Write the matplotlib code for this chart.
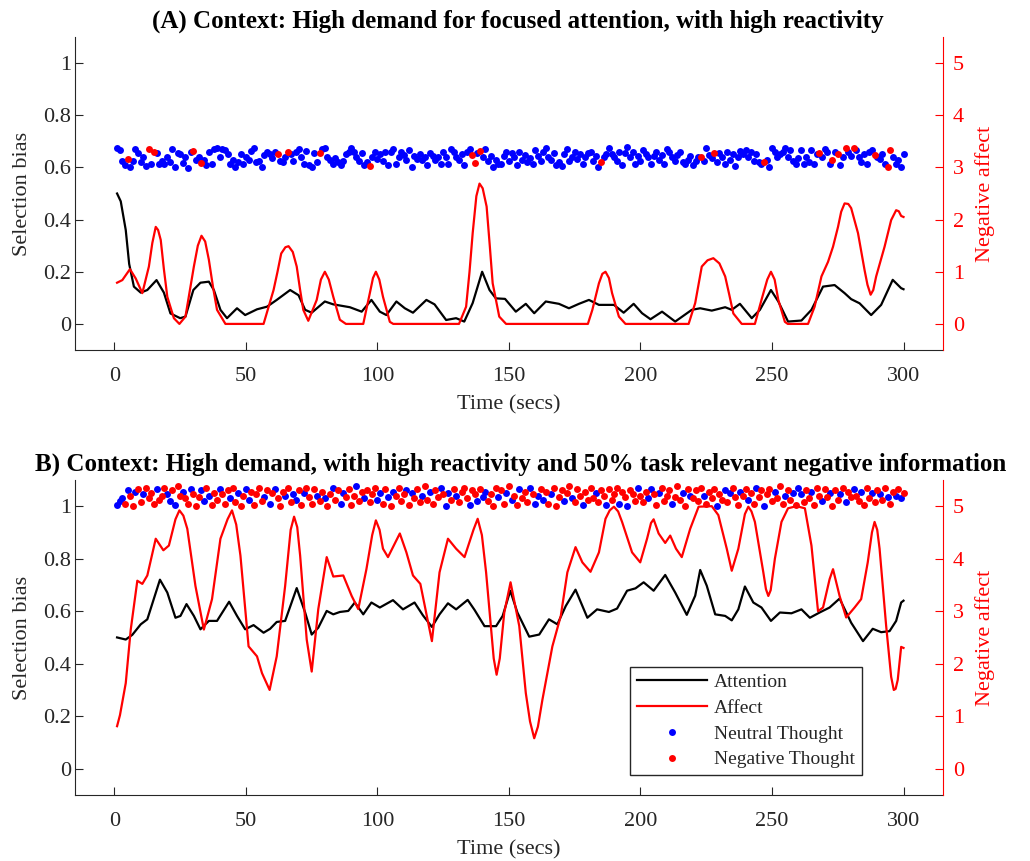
"""Attention / affect simulation traces for two contexts (A: focused, B: 50% negative)."""

import numpy as np
import matplotlib
matplotlib.use("Agg")
import matplotlib.pyplot as plt
from matplotlib.lines import Line2D

plt.rcParams["font.family"] = ["Liberation Serif", "DejaVu Serif"]

# ---------------- panel A ----------------
att_a_t = [1, 2.4, 4.3, 5.6, 7.4, 10, 12.5, 16, 18.8, 21.3, 25, 27, 30, 32.7, 35.9, 37.8,
           40.3, 42.8, 46.6, 49.7, 54.2, 58, 61.7, 66.8, 70, 72.5, 75, 80, 83.2, 89.5, 94,
           97.7, 100.9, 103.4, 107.2, 110.4, 113.5, 118.6, 121.7, 126.1, 129.9, 133, 136.2,
           139.8, 142.6, 145, 148.5, 152.6, 156.4, 159.6, 164, 169, 172.8, 176.6, 180.4,
           184.2, 189.9, 193.6, 197.4, 200.6, 203.8, 208.2, 213.2, 219.5, 222.7, 227.1,
           232.2, 234.7, 237.8, 242.3, 245.4, 249.6, 252.4, 256.1, 261.2, 265, 269.4,
           273.8, 277.6, 280.1, 283.3, 287.7, 291.5, 295.9, 299.1, 300]
att_a = [0.50, 0.47, 0.36, 0.23, 0.143, 0.12, 0.13, 0.168, 0.12, 0.04, 0.022, 0.028, 0.13,
         0.158, 0.162, 0.13, 0.054, 0.022, 0.06, 0.034, 0.056, 0.066, 0.092, 0.13, 0.11,
         0.054, 0.043, 0.086, 0.075, 0.064, 0.047, 0.092, 0.047, 0.034, 0.086, 0.06, 0.043,
         0.092, 0.075, 0.015, 0.022, 0.009, 0.08, 0.20, 0.13, 0.098, 0.096, 0.047, 0.077,
         0.041, 0.086, 0.077, 0.06, 0.077, 0.092, 0.073, 0.073, 0.043, 0.077, 0.041, 0.018,
         0.047, 0.009, 0.054, 0.06, 0.051, 0.064, 0.054, 0.077, 0.022, 0.054, 0.13, 0.086,
         0.009, 0.013, 0.054, 0.143, 0.149, 0.118, 0.095, 0.079, 0.034, 0.073, 0.169, 0.137,
         0.133]

aff_a_t = [1, 3, 5.9, 8.1, 10.6, 13.1, 14.4, 15.7, 16.6, 17.6, 18.8, 20.1, 22.6, 24.7, 27,
           30.2, 31.7, 33.1, 34.5, 35.9, 37.5, 39, 42.2, 56.7, 60.5, 62, 63.4, 65, 66.2,
           67.8, 69.3, 70.6, 71.8, 73.7, 76.9, 78.5, 80, 81.5, 83.2, 85.7, 88, 94.6, 97.1,
           98.3, 99.4, 100.7, 102.1, 104.7, 106, 131, 133.7, 135, 136.2, 137.6, 138.8, 140,
           141.5, 142.7, 143.8, 146.3, 148.9, 180, 181.7, 184.2, 185.5, 186.7, 188, 189.2,
           191.8, 194.3, 218.3, 220.8, 223.3, 225.5, 227.7, 230, 232.2, 233.8, 235.3, 238.5,
           243.5, 246, 248.2, 249.6, 251, 252.4, 254.9, 256, 263.7, 266.2, 268.8, 271.3,
           273.2, 275.1, 276.3, 277.6, 279, 280.1, 282.7, 285.2, 286.3, 287.5, 288.5, 289.6,
           292.8, 295.3, 297.2, 298.2, 299.1, 300]
aff_a = [0.79, 0.84, 1.05, 0.87, 0.59, 1.10, 1.55, 1.86, 1.80, 1.61, 1.05, 0.52, 0.11, 0.0,
         0.14, 1.10, 1.50, 1.69, 1.58, 1.23, 0.70, 0.27, 0.0, 0.0, 0.65, 1.0, 1.35, 1.47,
         1.49, 1.38, 1.10, 0.65, 0.27, 0.06, 0.46, 0.85, 1.0, 0.85, 0.52, 0.08, 0.0, 0.0,
         0.59, 0.88, 1.0, 0.85, 0.52, 0.04, 0.0, 0.0, 0.33, 1.0, 1.74, 2.45, 2.69, 2.60,
         2.25, 1.50, 0.78, 0.14, 0.0, 0.0, 0.27, 0.78, 0.96, 1.0, 0.88, 0.59, 0.14, 0.0,
         0.0, 0.40, 1.10, 1.22, 1.26, 1.16, 0.91, 0.55, 0.20, 0.0, 0.0, 0.46, 0.85, 1.0,
         0.85, 0.46, 0.04, 0.0, 0.0, 0.33, 0.91, 1.19, 1.48, 1.86, 2.15, 2.31, 2.30, 2.22,
         1.74, 1.03, 0.75, 0.56, 0.65, 0.91, 1.48, 1.99, 2.18, 2.16, 2.07, 2.05]

thought_a = [
    0.675, 0.665, 0.625, 0.610, 0.631, 0.600, 0.625, 0.670, 0.655, 0.620, 0.640, 0.605, 0.670, 0.615, 0.660, 0.655, 0.612, 0.625, 0.612, 0.640,
    0.620, 0.670, 0.600, 0.655, 0.650, 0.618, 0.640, 0.598, 0.660, 0.664, 0.630, 0.640, 0.617, 0.630, 0.608, 0.660, 0.612, 0.672, 0.675, 0.640,
    0.670, 0.665, 0.650, 0.612, 0.630, 0.600, 0.620, 0.650, 0.615, 0.640, 0.630, 0.662, 0.675, 0.620, 0.625, 0.600, 0.648, 0.660, 0.650, 0.635,
    0.660, 0.651, 0.625, 0.622, 0.640, 0.660, 0.650, 0.625, 0.660, 0.672, 0.640, 0.612, 0.662, 0.610, 0.600, 0.655, 0.620, 0.654, 0.672, 0.676,
    0.640, 0.628, 0.615, 0.635, 0.620, 0.610, 0.625, 0.650, 0.660, 0.675, 0.660, 0.640, 0.625, 0.655, 0.610, 0.620, 0.607, 0.640, 0.660, 0.632,
    0.650, 0.625, 0.660, 0.610, 0.660, 0.672, 0.612, 0.640, 0.660, 0.648, 0.628, 0.668, 0.602, 0.645, 0.632, 0.650, 0.628, 0.640, 0.610, 0.655,
    0.645, 0.628, 0.640, 0.612, 0.660, 0.640, 0.615, 0.672, 0.660, 0.640, 0.630, 0.650, 0.610, 0.660, 0.670, 0.648, 0.617, 0.655, 0.664, 0.640,
    0.670, 0.625, 0.645, 0.600, 0.630, 0.615, 0.612, 0.645, 0.660, 0.625, 0.655, 0.640, 0.610, 0.660, 0.630, 0.648, 0.620, 0.635, 0.612, 0.665,
    0.645, 0.625, 0.660, 0.675, 0.640, 0.630, 0.655, 0.610, 0.622, 0.605, 0.650, 0.672, 0.625, 0.640, 0.660, 0.632, 0.650, 0.612, 0.640, 0.655,
    0.660, 0.625, 0.645, 0.600, 0.620, 0.640, 0.650, 0.675, 0.650, 0.640, 0.625, 0.660, 0.610, 0.655, 0.678, 0.640, 0.660, 0.612, 0.645, 0.625,
    0.668, 0.650, 0.640, 0.612, 0.645, 0.660, 0.628, 0.648, 0.615, 0.672, 0.660, 0.640, 0.625, 0.648, 0.660, 0.620, 0.612, 0.630, 0.645, 0.610,
    0.625, 0.640, 0.639, 0.625, 0.675, 0.648, 0.635, 0.656, 0.620, 0.655, 0.640, 0.612, 0.660, 0.628, 0.650, 0.605, 0.640, 0.662, 0.650, 0.665,
    0.640, 0.660, 0.625, 0.652, 0.620, 0.612, 0.620, 0.630, 0.600, 0.675, 0.660, 0.640, 0.650, 0.660, 0.675, 0.640, 0.665, 0.625, 0.612, 0.638,
    0.665, 0.615, 0.640, 0.620, 0.668, 0.612, 0.650, 0.656, 0.640, 0.672, 0.660, 0.612, 0.628, 0.660, 0.653, 0.610, 0.640, 0.675, 0.660, 0.645,
    0.675, 0.665, 0.640, 0.620, 0.650, 0.612, 0.660, 0.665, 0.647, 0.640, 0.632, 0.650, 0.615, 0.603, 0.667, 0.640, 0.612, 0.628, 0.600, 0.650,
]
neg_times_a = [5, 13, 15, 30, 33, 62, 66, 78, 97, 136, 137, 139, 185, 223, 228, 247, 268,
               273, 275, 278, 281, 289, 294, 295]

# ---------------- panel B ----------------
att_b_t = [1, 4.3, 6.8, 10, 12.5, 17.3, 20.1, 23.2, 25.1, 27.4, 30.2, 32.7, 35.9, 39, 43.6,
           46.6, 49.7, 52.9, 56.7, 59.2, 61.7, 64.9, 69.3, 72.5, 75, 77.5, 80.7, 83.2, 85.7,
           88.9, 91.4, 94.6, 97.7, 100.9, 105.9, 109.7, 114.1, 117.3, 120.7, 123.6, 126.8,
           129.9, 134.3, 136.9, 140.7, 145.1, 147.6, 150.5, 153.2, 157.7, 161.5, 165.2,
           168.4, 171.6, 175.3, 179.8, 183.5, 188, 191.1, 194.9, 198.1, 201.2, 205, 209.4,
           213.2, 217.6, 220.8, 222.7, 225.2, 228.4, 232.2, 234.7, 237.2, 239.7, 242.9, 246,
           249.6, 253, 257.4, 261.2, 264.4, 268.1, 271.9, 275.7, 280.1, 284.6, 288.3, 291.5,
           294.7, 297.2, 299.1, 300]
att_b = [0.50, 0.492, 0.51, 0.55, 0.569, 0.72, 0.671, 0.575, 0.582, 0.627, 0.582, 0.531,
         0.563, 0.563, 0.636, 0.582, 0.531, 0.547, 0.518, 0.533, 0.559, 0.563, 0.688, 0.595,
         0.511, 0.537, 0.601, 0.588, 0.597, 0.601, 0.633, 0.588, 0.633, 0.614, 0.642, 0.607,
         0.633, 0.584, 0.54, 0.588, 0.63, 0.607, 0.643, 0.605, 0.543, 0.543, 0.582, 0.678,
         0.595, 0.503, 0.511, 0.569, 0.55, 0.62, 0.682, 0.575, 0.607, 0.597, 0.61, 0.678,
         0.687, 0.71, 0.678, 0.738, 0.671, 0.586, 0.659, 0.757, 0.697, 0.588, 0.582, 0.565,
         0.607, 0.694, 0.633, 0.614, 0.563, 0.595, 0.592, 0.607, 0.575, 0.595, 0.614, 0.648,
         0.556, 0.486, 0.533, 0.52, 0.524, 0.563, 0.633, 0.64]

aff_b_t = [1, 2.1, 4.3, 6.2, 8.7, 10.6, 12.5, 15.7, 18.6, 20.7, 23.2, 24.7, 26.2, 27.7, 30.8,
           34, 37.1, 40.3, 43, 44.7, 46.3, 47.9, 51, 54.2, 56.1, 59, 61.7, 64.9, 67, 68.3,
           69.5, 70.6, 73.1, 75, 77.5, 80.7, 83.2, 87, 90.2, 92.7, 95.8, 98, 99.4, 100.8,
           102.1, 104, 108.5, 111, 113.5, 116.3, 120.7, 123.6, 126.8, 129.9, 133.1, 136.5,
           138.1, 139.7, 141.3, 144.2, 145.3, 146.5, 148.2, 150.6, 153.9, 156.4, 158, 159.6,
           161, 162.7, 166.5, 169.7, 172.2, 175.3, 177.9, 181, 184.2, 186.7, 188.3, 189.9,
           191.5, 193, 196.8, 199.9, 202.5, 204, 205, 206.9, 209.4, 211.3, 213.5, 215.7,
           218.9, 222.1, 227.1, 229.6, 232.8, 234.7, 237.2, 239.7, 241, 242.2, 243.5, 246.7,
           247.7, 248.6, 249.5, 251.1, 253.6, 256.1, 259.3, 262.5, 265, 267.5, 269.4, 271.9,
           273.2, 275.7, 278.2, 281.4, 283.9, 286.4, 288, 289, 290, 290.9, 293.4, 295.3,
           296.3, 297, 297.8, 299.1, 300]
aff_b = [0.81, 1.02, 1.63, 2.65, 3.58, 3.52, 3.68, 4.38, 4.16, 4.25, 4.75, 4.92, 4.82, 4.57,
         3.48, 2.65, 3.23, 4.38, 4.75, 4.92, 4.65, 4.06, 2.33, 2.14, 1.82, 1.50, 2.14, 3.48,
         4.55, 4.80, 4.60, 4.06, 2.46, 1.85, 3.04, 4.03, 3.66, 3.68, 3.29, 3.04, 3.80, 4.45,
         4.73, 4.55, 4.19, 4.03, 4.48, 4.12, 3.68, 3.52, 2.43, 3.74, 4.38, 4.19, 4.03, 4.55,
         4.76, 4.45, 3.74, 2.10, 1.79, 2.10, 2.97, 3.55, 2.72, 1.44, 0.90, 0.58, 0.80, 1.31,
         2.33, 2.91, 3.74, 4.22, 3.93, 3.75, 4.12, 4.76, 4.92, 4.99, 4.90, 4.70, 4.12, 3.93,
         4.38, 4.68, 4.75, 4.48, 4.30, 4.44, 4.19, 4.03, 4.57, 4.99, 5.0, 4.83, 4.19, 3.77,
         4.19, 4.85, 4.99, 4.90, 4.70, 3.74, 3.42, 3.29, 3.40, 4.0, 4.70, 4.96, 5.0, 4.96,
         4.25, 3.0, 3.07, 3.61, 3.80, 3.29, 2.88, 3.07, 3.23, 3.93, 4.50, 4.70, 4.55, 4.19,
         2.72, 1.75, 1.50, 1.52, 1.69, 2.32, 2.30]

thought_b = [
    1.005, 1.020, 1.030, 1.010, 1.060, 1.040, 1.000, 1.055, 1.065, 1.015, 1.045, 1.070, 1.030, 1.050, 1.010, 1.065, 1.025, 1.040, 1.070, 1.045,
    1.020, 1.060, 1.005, 1.075, 1.040, 1.055, 1.030, 1.010, 1.065, 1.045, 1.000, 1.035, 1.060, 1.020, 1.070, 1.040, 1.005, 1.050, 1.025, 1.065,
    1.045, 1.010, 1.060, 1.030, 1.070, 1.015, 1.050, 1.000, 1.040, 1.065, 1.025, 1.055, 1.005, 1.045, 1.070, 1.020, 1.035, 1.060, 1.010, 1.050,
    1.065, 1.030, 1.000, 1.055, 1.040, 1.070, 1.015, 1.045, 1.025, 1.060, 1.005, 1.050, 1.070, 1.035, 1.010, 1.065, 1.040, 1.020, 1.055, 1.030,
    1.000, 1.045, 1.070, 1.025, 1.060, 1.010, 1.050, 1.035, 1.065, 1.005, 1.040, 1.075, 1.020, 1.055, 1.030, 1.060, 1.015, 1.045, 1.070, 1.025,
    1.050, 1.010, 1.065, 1.035, 1.000, 1.055, 1.040, 1.070, 1.020, 1.045, 1.060, 1.005, 1.050, 1.030, 1.065, 1.015, 1.040, 1.075, 1.025, 1.055,
    1.010, 1.060, 1.035, 1.070, 1.045, 1.000, 1.050, 1.025, 1.065, 1.040, 1.015, 1.055, 1.070, 1.030, 1.005, 1.060, 1.045, 1.020, 1.065, 1.035,
    1.055, 1.020, 1.045, 1.000, 1.070, 1.035, 1.060, 1.010, 1.050, 1.075, 1.025, 1.040, 1.005, 1.065, 1.030, 1.055, 1.015, 1.070, 1.045, 1.010,
    1.040, 1.065, 1.025, 1.055, 1.010, 1.045, 1.070, 1.000, 1.035, 1.060, 1.020, 1.050, 1.075, 1.030, 1.015, 1.065, 1.040, 1.005, 1.055, 1.025,
    1.070, 1.030, 1.050, 1.015, 1.060, 1.040, 1.005, 1.065, 1.025, 1.045, 1.070, 1.010, 1.055, 1.035, 1.000, 1.060, 1.045, 1.020, 1.070, 1.040,
    1.015, 1.055, 1.030, 1.065, 1.045, 1.005, 1.050, 1.070, 1.020, 1.040, 1.060, 1.010, 1.035, 1.075, 1.025, 1.050, 1.000, 1.065, 1.040, 1.030,
    1.060, 1.020, 1.070, 1.040, 1.010, 1.055, 1.030, 1.065, 1.000, 1.045, 1.025, 1.060, 1.015, 1.050, 1.070, 1.035, 1.005, 1.055, 1.040, 1.065,
    1.025, 1.050, 1.010, 1.070, 1.035, 1.060, 1.000, 1.045, 1.065, 1.020, 1.055, 1.030, 1.075, 1.010, 1.040, 1.060, 1.025, 1.050, 1.005, 1.070,
    1.045, 1.015, 1.060, 1.030, 1.055, 1.005, 1.070, 1.040, 1.020, 1.065, 1.035, 1.050, 1.000, 1.060, 1.025, 1.045, 1.070, 1.015, 1.055, 1.035,
    1.065, 1.040, 1.020, 1.055, 1.005, 1.070, 1.030, 1.050, 1.015, 1.060, 1.045, 1.025, 1.070, 1.035, 1.010, 1.055, 1.040, 1.065, 1.030, 1.050,
]
# 1 = negative thought, 0 = neutral thought (one per second)
kind_b = ("000101101101111011100101101101"
          "110010111011101101100111110101"
          "011101100110111101101101100111"
          "101101111001101011110101110110"
          "111010011011110110100111101101"
          "011011101001011011110110111011"
          "110111011110110111011100110111"
          "101110110111101111011010111011"
          "011011011101110110100111011101"
          "101110101101101110110110110101")

BLUE = "#0000ff"
RED = "#ff0000"
GREY = "#262626"


def style(ax, ax2):
    ax.set_xlim(-15, 315)
    ax.set_ylim(-0.1, 1.1)
    ax2.set_ylim(-0.5, 5.5)
    ax.set_xticks(range(0, 301, 50))
    ax.set_yticks([0, 0.2, 0.4, 0.6, 0.8, 1])
    ax.set_yticklabels(["0", "0.2", "0.4", "0.6", "0.8", "1"])
    ax2.set_yticks(range(0, 6))
    for a in (ax, ax2):
        a.spines["top"].set_visible(False)
    ax.spines["left"].set_color(GREY)
    ax.spines["bottom"].set_color(GREY)
    ax.spines["right"].set_visible(False)
    ax2.spines["left"].set_visible(False)
    ax2.spines["bottom"].set_visible(False)
    ax2.spines["right"].set_color(RED)
    ax.tick_params(axis="x", direction="in", length=6, colors=GREY, labelsize=16, pad=12)
    ax.tick_params(axis="y", direction="in", length=6, colors=GREY, labelsize=16, pad=3)
    ax2.tick_params(axis="y", direction="in", length=6, colors=RED, labelsize=16, pad=7)
    ax.set_xlabel("Time (secs)", fontsize=16, labelpad=7, color=GREY)
    ax.set_ylabel("Selection bias", fontsize=16, labelpad=8, color=GREY)
    ax2.set_ylabel("Negative affect", fontsize=16, labelpad=8, color=RED)


fig = plt.figure(figsize=(10.3, 8.61), dpi=100)
ax_a = fig.add_axes([0.0728, 0.5935, 0.8427, 0.3635])
ax_b = fig.add_axes([0.0728, 0.0767, 0.8427, 0.3659])

secs = np.arange(1, len(thought_a) + 1)

# (A)
ta = np.array(thought_a)
neg_a = np.isin(secs, neg_times_a)
ax_a.plot(secs[~neg_a], ta[~neg_a], "o", color=BLUE, ms=5, mew=0)
ax_a.plot(secs[neg_a], ta[neg_a], "o", color=RED, ms=5, mew=0)
ax_a.plot(att_a_t, att_a, color="black", lw=1.6)
ax_a2 = ax_a.twinx()
ax_a2.plot(aff_a_t, aff_a, color=RED, lw=1.6)
style(ax_a, ax_a2)

# (B)
tb = np.array(thought_b)
neg_b = np.array([c == "1" for c in kind_b])
ax_b.plot(secs[~neg_b], tb[~neg_b], "o", color=BLUE, ms=5, mew=0)
ax_b.plot(secs[neg_b], tb[neg_b], "o", color=RED, ms=5, mew=0)
ax_b.plot(att_b_t, att_b, color="black", lw=1.6)
ax_b2 = ax_b.twinx()
ax_b2.plot(aff_b_t, aff_b, color=RED, lw=1.6)
style(ax_b, ax_b2)

handles = [Line2D([], [], color="black", lw=1.6),
           Line2D([], [], color=RED, lw=1.6),
           Line2D([], [], color=BLUE, marker="o", ls="none", ms=5, mew=0),
           Line2D([], [], color=RED, marker="o", ls="none", ms=5, mew=0)]
leg = ax_b2.legend(handles, ["Attention", "Affect", "Neutral Thought", "Negative Thought"],
                   loc="lower left", bbox_to_anchor=(0.640, 0.063), borderaxespad=0,
                   fontsize=14, handlelength=3.6, handletextpad=0.35, fancybox=False,
                   edgecolor=GREY, framealpha=1, labelspacing=0.42, borderpad=0.35,
                   labelcolor=GREY)
leg.get_frame().set_linewidth(1.0)

fig.text(518 / 1030, 1 - 21 / 861, "(A) Context: High demand for focused attention, with high reactivity",
         ha="center", va="center", fontsize=18, fontweight="bold")
fig.text(521 / 1030, 1 - 464 / 861,
         "B) Context: High demand, with high reactivity and 50% task relevant negative information",
         ha="center", va="center", fontsize=18, fontweight="bold")

fig.savefig("out.png", dpi=100)
